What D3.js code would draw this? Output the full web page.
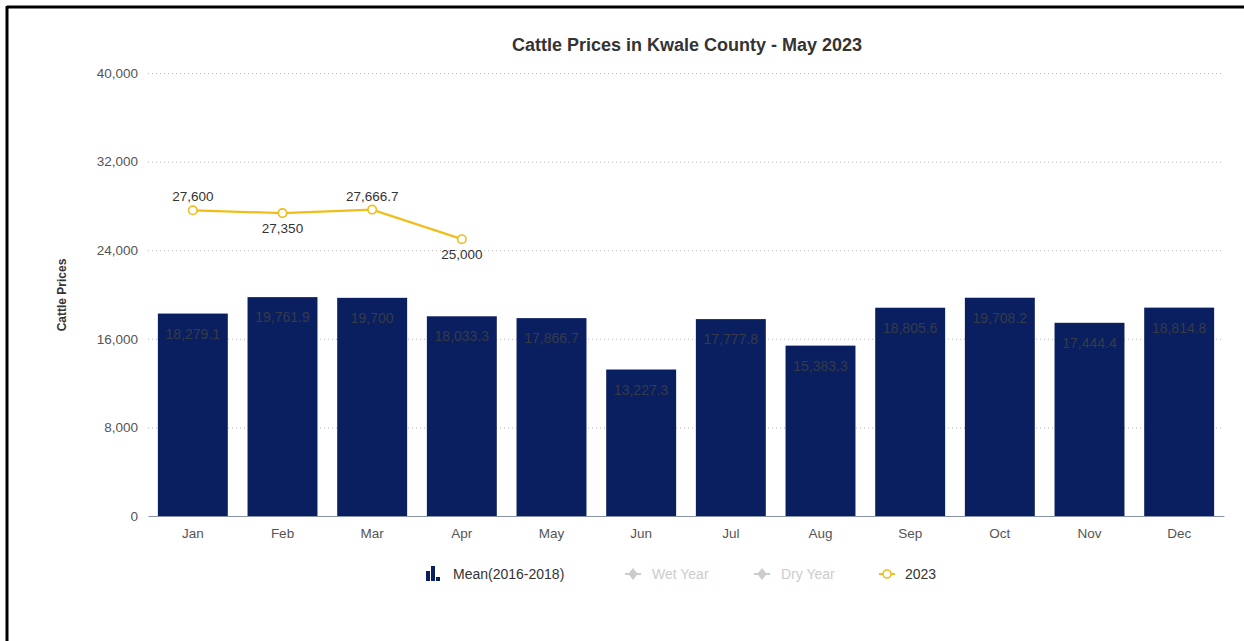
<!DOCTYPE html>
<html>
<head>
<meta charset="utf-8">
<script src="https://cdn.jsdelivr.net/npm/d3@7"></script>
<style>
  html, body { margin: 0; padding: 0; background: #fff; }
  svg { display: block; font-family: "Liberation Sans", Arial, sans-serif; }
</style>
</head>
<body>
<svg id="chart" width="1244" height="641"></svg>
<script>
// Monthly cattle prices, Kwale County
const months = ["Jan", "Feb", "Mar", "Apr", "May", "Jun", "Jul", "Aug", "Sep", "Oct", "Nov", "Dec"];
const meanValues = [18279.1, 19761.9, 19700, 18033.3, 17866.7, 13227.3, 17777.8, 15383.3, 18805.6, 19708.2, 17444.4, 18814.8];
const months2023 = ["Jan", "Feb", "Mar", "Apr"];
const values2023 = [27600, 27350, 27666.7, 25000];
const labelAbove2023 = [true, false, true, false];
const yTicks = [0, 8000, 16000, 24000, 32000, 40000];
const legendItems = ["Mean(2016-2018)", "Wet Year", "Dry Year", "2023"];

const svg = d3.select("#chart");
const W = 1244, H = 641;
const margin = { left: 148, right: 20, top: 73, bottom: 125 };
const plotW = 1224 - margin.left;
const plotH = 516 - margin.top;

const navy = "#0a1f60";
const gold = "#f0bd1b";

// frame lines on top and left
svg.append("line").attr("x1", 7).attr("x2", W).attr("y1", 7).attr("y2", 7)
  .attr("stroke", "#000").attr("stroke-width", 3);
svg.append("line").attr("x1", 7).attr("x2", 7).attr("y1", 6).attr("y2", H)
  .attr("stroke", "#000").attr("stroke-width", 3);

const x = d3.scaleBand().domain(months).range([0, plotW]).paddingInner(0.22).paddingOuter(0.11);
const y = d3.scaleLinear().domain([0, 40000]).range([plotH, 0]);
const xc = m => x(m) + x.bandwidth() / 2;

const g = svg.append("g").attr("transform", `translate(${margin.left},${margin.top})`);

// title
svg.append("text")
  .attr("x", 687).attr("y", 51)
  .attr("text-anchor", "middle")
  .attr("font-size", 18).attr("font-weight", "bold").attr("fill", "#333")
  .text("Cattle Prices in Kwale County - May 2023");

// y axis title
svg.append("text")
  .attr("transform", "translate(66,295) rotate(-90)")
  .attr("text-anchor", "middle")
  .attr("font-size", 12).attr("font-weight", "bold").attr("fill", "#333")
  .text("Cattle Prices");

// gridlines and y tick labels
const yAxis = d3.axisLeft(y).tickValues(yTicks).tickSize(-plotW).tickPadding(10)
  .tickFormat(d3.format(","));
const yg = g.append("g").call(yAxis);
yg.select(".domain").remove();
yg.selectAll(".tick line")
  .attr("stroke", "#b8b8b8").attr("stroke-dasharray", "1,3")
  .attr("display", d => d === 0 ? "none" : null);
yg.selectAll(".tick text").attr("font-size", 13.5).attr("fill", "#555")
  .attr("font-family", "Liberation Sans, Arial, sans-serif");

// bars
g.selectAll("rect.bar").data(months).join("rect")
  .attr("class", "bar")
  .attr("x", m => x(m))
  .attr("width", x.bandwidth())
  .attr("y", (m, i) => y(meanValues[i]))
  .attr("height", (m, i) => plotH - y(meanValues[i]))
  .attr("fill", navy);

// bar value labels
g.selectAll("text.barlabel").data(months).join("text")
  .attr("class", "barlabel")
  .attr("x", m => xc(m))
  .attr("y", (m, i) => y(meanValues[i]) + 25)
  .attr("text-anchor", "middle")
  .attr("font-size", 14).attr("fill", "#363b48")
  .text((m, i) => d3.format(",")(meanValues[i]));

// x axis
const xAxis = d3.axisBottom(x).tickSize(0).tickPadding(12);
const xg = g.append("g").attr("transform", `translate(0,${plotH})`).call(xAxis);
xg.select(".domain").attr("stroke", "#8a93ad").attr("stroke-width", 1);
xg.selectAll(".tick text").attr("font-size", 13.5).attr("fill", "#555")
  .attr("font-family", "Liberation Sans, Arial, sans-serif");

// 2023 series
const line = d3.line().x((d, i) => xc(months2023[i])).y(d => y(d));
g.append("path").datum(values2023)
  .attr("d", line).attr("fill", "none")
  .attr("stroke", gold).attr("stroke-width", 2.2);
g.selectAll("circle.pt").data(values2023).join("circle")
  .attr("class", "pt")
  .attr("cx", (d, i) => xc(months2023[i])).attr("cy", d => y(d))
  .attr("r", 4.2).attr("fill", "#fff").attr("stroke", gold).attr("stroke-width", 1.6);
g.selectAll("text.ptlabel").data(values2023).join("text")
  .attr("class", "ptlabel")
  .attr("x", (d, i) => xc(months2023[i]))
  .attr("y", (d, i) => labelAbove2023[i] ? y(d) - 9 : y(d) + 20)
  .attr("text-anchor", "middle")
  .attr("font-size", 13.5).attr("fill", "#333")
  .text(d => d3.format(",")(d));

// legend
const lg = svg.append("g").attr("transform", "translate(0,574)");
// bar icon
const icon = lg.append("g").attr("transform", "translate(426,0)");
[[0, -3, 4, 10], [5, -8, 4, 15], [10, 3, 4, 4]].forEach(r => {
  icon.append("rect").attr("x", r[0]).attr("y", r[1]).attr("width", r[2]).attr("height", r[3]).attr("fill", navy);
});
lg.append("text").attr("x", 453).attr("y", 5).attr("font-size", 14).attr("fill", "#333").text(legendItems[0]);

const grayItem = (cx, label) => {
  lg.append("line").attr("x1", cx - 8).attr("x2", cx + 8).attr("y1", 0).attr("y2", 0)
    .attr("stroke", "#cccccc").attr("stroke-width", 2);
  lg.append("path").attr("d", d3.symbol(d3.symbolDiamond, 50)()).attr("transform", `translate(${cx},0) scale(1.25,0.9)`)
    .attr("fill", "#cccccc");
  lg.append("text").attr("x", cx + 19).attr("y", 5).attr("font-size", 14).attr("fill", "#cccccc").text(label);
};
grayItem(633, legendItems[1]);
grayItem(762, legendItems[2]);

lg.append("line").attr("x1", 879).attr("x2", 895).attr("y1", 0).attr("y2", 0)
  .attr("stroke", gold).attr("stroke-width", 2);
lg.append("circle").attr("cx", 887).attr("cy", 0).attr("r", 4).attr("fill", "#fff")
  .attr("stroke", gold).attr("stroke-width", 1.6);
lg.append("text").attr("x", 905).attr("y", 5).attr("font-size", 14).attr("fill", "#333").text(legendItems[3]);
</script>
</body>
</html>
